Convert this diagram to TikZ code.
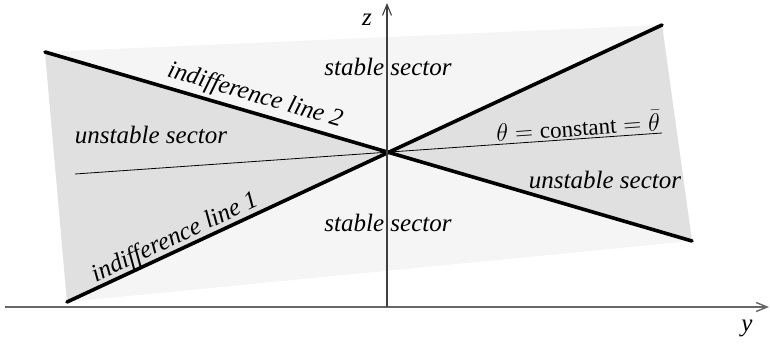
\documentclass[tikz,border=0pt]{standalone}
\usepackage{fontspec}
\setmainfont{Liberation Serif}
\usepackage{tikz}
\usetikzlibrary{arrows.meta}

\begin{document}
\begin{tikzpicture}[
  x=1pt, y=-1pt,
  font=\fontsize{23}{27}\selectfont,
  lbl/.style={inner sep=0pt, font=\fontsize{25}{29}\selectfont\itshape},
  indiff/.style={line width=3.6pt, line cap=round},
  axis/.style={line width=1.1pt, draw=black!75, -{Straight Barb[length=11pt,width=9pt]}}
]
  \useasboundingbox (0,0) rectangle (770,346);
  % corners of the shaded region and the crossing point
  \coordinate (tl) at (45,52);
  \coordinate (tr) at (662,25);
  \coordinate (br) at (692,241);
  \coordinate (bl) at (67,302);
  \coordinate (o) at (387,152.5);
  \coordinate (thl) at (75,174);
  \coordinate (thr) at (662,133);

  \fill[black!4] (tl) -- (tr) -- (br) -- (bl) -- cycle;
  \fill[black!12] (tl) -- (o) -- (bl) -- cycle;
  \fill[black!12] (tr) -- (o) -- (br) -- cycle;

  \draw[line width=0.8pt] (thl) -- (thr);
  \draw[indiff] (tl) -- (br);
  \draw[indiff] (bl) -- (tr);

  \node[lbl] (st1) at (388,67) {stable sector};
  \node[lbl] (st2) at (388,223) {stable sector};
  \node[lbl] (un1) at (151,135) {unstable sector};
  \node[lbl] (un2) at (605,180) {unstable sector};
  \node[lbl, rotate=-16.3] (il2) at (255,96) {indifference line 2};
  \node[lbl, rotate=25.2] (il1) at (175,238) {indifference line 1};
  \node[inner sep=0pt, rotate=4] (th) at (578,126) {$\theta = \mathrm{constant} = \bar{\theta}$};

  % axes
  \coordinate (yl) at (5,307);
  \coordinate (yr) at (769,307);
  \coordinate (zb) at (387,307);
  \coordinate (zt) at (387,3);
  \draw[axis, line width=1.4pt, draw=black!60] (yl) -- (yr);
  \draw[axis] (zb) -- (zt);
  \node[lbl] (zl) at (367,20) {z};
  \node[lbl] (yn) at (747,328) {y};
\end{tikzpicture}
\end{document}
